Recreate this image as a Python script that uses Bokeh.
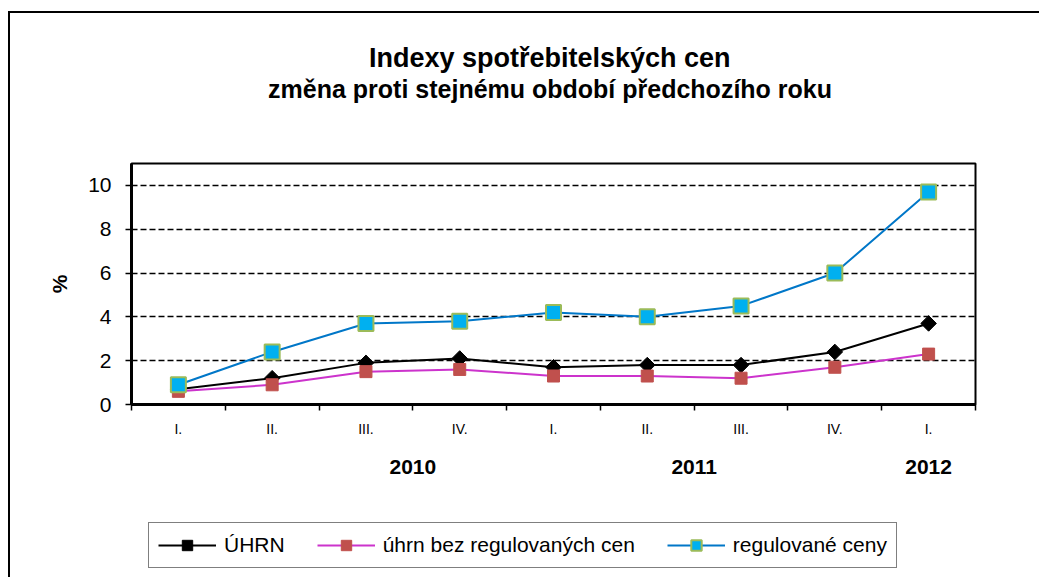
from bokeh.plotting import figure
from bokeh.layouts import column
from bokeh.models import Range1d, FixedTicker, LinearAxis, Legend, LegendItem, Title
from bokeh.embed import file_html
from bokeh.resources import INLINE
import numpy as np

# ---- data ----
quarters = ["I.", "II.", "III.", "IV.", "I.", "II.", "III.", "IV.", "I."]
years = ["2010", "2011", "2012"]
uhrn = [0.7, 1.2, 1.9, 2.1, 1.7, 1.8, 1.8, 2.4, 3.7]
bez_reg = [0.6, 0.9, 1.5, 1.6, 1.3, 1.3, 1.2, 1.7, 2.3]
regul = [0.9, 2.4, 3.7, 3.8, 4.2, 4.0, 4.5, 6.0, 9.7]
y_ticks = [0, 2, 4, 6, 8, 10]
series_names = ["ÚHRN", "úhrn bez regulovaných cen", "regulované ceny"]

FONT = "Liberation Sans"

n = len(quarters)
xs = [2 * i + 1 for i in range(n)]          # category centres
boundaries = [2 * i for i in range(n + 1)]   # category boundaries
year_pos = [6, 12, 17]

# series styles
STY = [
    dict(line_color="black", marker="square", angle=np.pi / 4, size=11,
         fill_color="black", mline="black", mwidth=1),
    dict(line_color="#CC33CC", marker="square", angle=0, size=12,
         fill_color="#C0504D", mline="#C0504D", mwidth=1),
    dict(line_color="#0077C8", marker="square", angle=0, size=15,
         fill_color="#00B0F0", mline="#9BBB59", mwidth=2),
]
series_vals = [uhrn, bez_reg, regul]

p = figure(frame_width=844, frame_height=241, output_backend="svg", toolbar_location=None,
           x_range=Range1d(0, 2 * n), y_range=Range1d(0, 11),
           min_border_left=121, min_border_right=64, min_border_top=150,
           min_border_bottom=85)
p.background_fill_color = "white"
p.border_fill_color = "white"
p.outline_line_color = "black"
p.outline_line_width = 2

# titles (spacer, subtitle, main title)
p.add_layout(Title(text="\u00a0", text_font_size="10px", standoff=48), "above")
p.add_layout(Title(text="změna proti stejnému období  předchozího roku", align="center",
                   text_font=FONT, text_font_size="25px", text_font_style="bold",
                   text_color="black", standoff=0, text_line_height=0.85), "above")
p.add_layout(Title(text="Indexy spotřebitelských  cen", align="center",
                   text_font=FONT, text_font_size="27px", text_font_style="bold",
                   text_color="black", standoff=0, text_line_height=0.85), "above")

# y axis
p.yaxis.ticker = FixedTicker(ticks=y_ticks)
p.yaxis.minor_tick_line_color = None
p.yaxis.major_tick_out = 6
p.yaxis.major_tick_in = 0
p.yaxis.major_tick_line_width = 1.5
p.yaxis.axis_line_width = 3
p.yaxis.major_label_text_font = FONT
p.yaxis.major_label_text_font_size = "21px"
p.yaxis.major_label_text_color = "black"
p.yaxis.major_label_standoff = 14
p.yaxis.axis_label = "%"
p.yaxis.axis_label_text_font = FONT
p.yaxis.axis_label_text_font_size = "21px"
p.yaxis.axis_label_text_font_style = "bold"
p.yaxis.axis_label_text_color = "black"
p.yaxis.axis_label_standoff = 14

# x axis: ticks at boundaries, no labels
p.xaxis.ticker = FixedTicker(ticks=boundaries)
p.xaxis.minor_tick_line_color = None
p.xaxis.major_tick_out = 6
p.xaxis.major_tick_in = 0
p.xaxis.major_tick_line_width = 1.5
p.xaxis.axis_line_width = 3
p.xaxis.major_label_overrides = {b: "" for b in boundaries}
p.xaxis.major_label_text_font_size = "1px"
p.xaxis.major_label_standoff = 0

# quarter labels axis
qax = LinearAxis(ticker=FixedTicker(ticks=xs),
                 major_label_overrides={x: q for x, q in zip(xs, quarters)},
                 axis_line_color=None, major_tick_line_color=None, minor_tick_line_color=None,
                 major_label_text_font=FONT, major_label_text_font_size="14px",
                 major_label_text_color="black", major_label_standoff=4)
p.add_layout(qax, "below")

# year labels axis
yax = LinearAxis(ticker=FixedTicker(ticks=year_pos),
                 major_label_overrides={x: y for x, y in zip(year_pos, years)},
                 axis_line_color=None, major_tick_line_color=None, minor_tick_line_color=None,
                 major_label_text_font=FONT, major_label_text_font_size="21px",
                 major_label_text_font_style="bold",
                 major_label_text_color="black", major_label_standoff=14)
p.add_layout(yax, "below")

# grid
p.xgrid.grid_line_color = None
p.ygrid.ticker = FixedTicker(ticks=y_ticks[1:])
p.ygrid.grid_line_color = "black"
p.ygrid.grid_line_width = 1.5
p.ygrid.grid_line_dash = "6 3"

# series
for vals, s in zip(series_vals, STY):
    p.line(xs, vals, line_color=s["line_color"], line_width=2)
    p.scatter(xs, vals, marker=s["marker"], angle=s["angle"], size=s["size"],
              fill_color=s["fill_color"], line_color=s["mline"], line_width=s["mwidth"])

# legend figure (below the chart); its renderers hold the series but lie outside its view
p2 = figure(width=1029, height=88, output_backend="svg", toolbar_location=None,
            x_range=Range1d(-30, -29), y_range=Range1d(-30, -29),
            x_axis_type=None, y_axis_type=None, min_border=0)
p2.outline_line_color = None
p2.background_fill_color = "white"
p2.border_fill_color = "white"
p2.xgrid.grid_line_color = None
p2.ygrid.grid_line_color = None

items = []
for name, vals, s in zip(series_names, series_vals, STY):
    lr = p2.line(xs, vals, line_color=s["line_color"], line_width=2)
    mr = p2.scatter(xs, vals, marker=s["marker"], angle=s["angle"], size=s["size"],
                    fill_color=s["fill_color"], line_color=s["mline"], line_width=s["mwidth"])
    items.append(LegendItem(label=name, renderers=[lr, mr]))

legend = Legend(items=items, orientation="horizontal", location=(17, 9),
                label_text_font=FONT, label_text_font_size="21px",
                label_text_color="black",
                glyph_width=58, glyph_height=26, label_height=20, label_standoff=8,
                spacing=32, padding=9, margin=0,
                border_line_color="black", border_line_width=1.5)
p2.add_layout(legend, "center")

layout = column(p, p2, spacing=0,
                styles={"margin-left": "8px", "margin-top": "11px",
                        "border-left": "2px solid black", "border-top": "2px solid black"})

open("out.html", "w").write(file_html(layout, INLINE))
